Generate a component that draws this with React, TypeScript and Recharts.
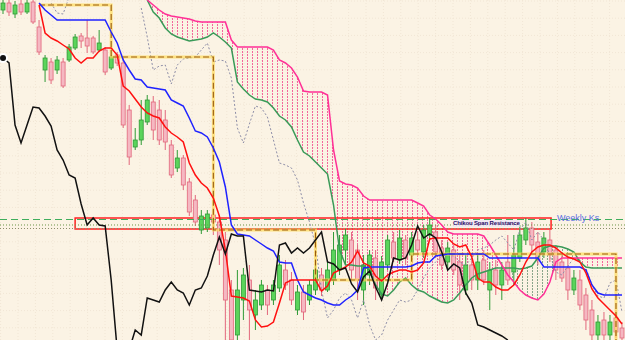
import React from 'react';
import {
  ComposedChart, Bar, Line, Area,
  XAxis, YAxis, CartesianGrid,
  ReferenceLine, ReferenceArea,
} from 'recharts';

const W = 625;
const H = 340;

// price levels are read top-down off the picture (0 = top row, 340 = bottom row)
const opens = [10, 3, 14, 4, 12, 2, 27, 70, 62, 70, 62, 60, 48, 36, 38, 38, 50, 50, 68, 55, 63, 110, 147, 140, 122, 102, 110, 120, 145, 168, 158, 182, 200, 230, 228, 215, 222, 240, 290, 335, 300, 280, 315, 305, 290, 300, 288, 270, 280, 310, 292, 300, 290, 275, 290, 280, 270, 250, 240, 250, 290, 275, 258, 295, 265, 242, 260, 240, 255, 240, 252, 235, 232, 248, 262, 250, 262, 290, 265, 280, 260, 290, 270, 285, 262, 272, 258, 240, 228, 242, 252, 240, 250, 262, 268, 290, 280, 295, 310, 335, 320, 335, 318, 328];
const closes = [3, 12, 5, 12, 3, 22, 52, 58, 80, 60, 86, 47, 37, 41, 46, 52, 43, 72, 57, 63, 125, 157, 140, 120, 100, 130, 140, 142, 175, 158, 185, 212, 222, 216, 214, 222, 250, 300, 340, 290, 275, 310, 300, 285, 305, 285, 265, 285, 300, 292, 312, 285, 270, 290, 270, 250, 245, 235, 270, 280, 265, 255, 288, 262, 240, 258, 238, 258, 238, 250, 230, 225, 252, 265, 248, 270, 285, 265, 280, 262, 280, 270, 285, 270, 280, 255, 235, 228, 245, 260, 238, 255, 270, 278, 290, 278, 305, 320, 335, 322, 335, 322, 332, 338];
const highs = [0, 0, 1, 0, 0, -2, 20, 55, 58, 56, 58, 44, 34, 33, 20, 36, 30, 47, 55, 52, 58, 105, 128, 100, 95, 96, 100, 110, 140, 150, 155, 178, 195, 210, 210, 210, 215, 232, 280, 270, 268, 265, 290, 280, 285, 280, 255, 260, 272, 285, 285, 280, 265, 268, 262, 232, 235, 228, 232, 245, 255, 250, 250, 256, 235, 232, 230, 235, 232, 232, 225, 218, 225, 240, 242, 245, 255, 255, 258, 255, 250, 262, 260, 262, 235, 235, 225, 218, 222, 232, 232, 230, 245, 255, 258, 270, 270, 288, 300, 315, 312, 315, 310, 322];
const lows = [14, 16, 18, 15, 14, 24, 55, 82, 84, 74, 88, 62, 50, 48, 53, 54, 52, 75, 70, 66, 128, 165, 150, 145, 125, 140, 145, 150, 178, 172, 190, 216, 226, 234, 232, 235, 265, 345, 345, 345, 320, 345, 330, 310, 315, 305, 292, 290, 305, 315, 320, 305, 295, 296, 292, 285, 275, 265, 280, 300, 305, 285, 300, 300, 270, 262, 264, 265, 262, 255, 258, 240, 258, 270, 268, 275, 300, 295, 290, 290, 285, 310, 295, 300, 285, 285, 262, 245, 252, 265, 258, 262, 280, 282, 300, 295, 310, 330, 345, 345, 345, 345, 338, 345];

const tenkan = [null, null, null, null, null, null, 5, 33, 38, 41, 45, 49, 58, 63, 58, 58, 51, 48, 48, 55, 86, 91, 99, 107, 113, 116, 118, 127, 133, 137, 142, 163, 175, 183, 188, 198, 216, 250, 296, 297, 298, 301, 320, 327, 326, 322, 303, 283, 280, 280, 280, 280, 280, 291, 286, 273, 270, 267, 262, 251, 263, 266, 276, 281, 275, 272, 270, 270, 272, 270, 263, 239, 238, 238, 238, 244, 247, 245, 257, 278, 282, 282, 287, 290, 290, 285, 275, 262, 252, 247, 245, 245, 248, 253, 257, 259, 262, 273, 289, 298, 304, 310, 316, 324];
const kijun = [null, null, null, null, null, null, 3, 10, 15, 20, 20, 20, 20, 20, 20, 20, 20, 20, 32, 43, 60, 70, 79, 80, 87, 88, 89, 90, 100, 103, 106, 118, 131, 133, 137, 148, 162, 187, 225, 234, 235, 236, 240, 244, 248, 251, 262, 263, 263, 280, 292, 295, 298, 300, 303, 305, 305, 300, 296, 290, 268, 267, 267, 267, 267, 267, 267, 267, 266, 263, 262, 262, 256, 255, 254, 254, 254, 254, 254, 254, 254, 258, 258, 258, 258, 258, 258, 258, 258, 258, 267, 267, 267, 267, 267, 267, 267, 270, 285, 293, 295, 295, 295, 295];
const senkouA = [null, null, null, null, null, null, null, null, null, null, null, null, null, null, null, null, null, null, null, null, null, null, null, null, 0, 12, 18, 28, 34, 37, 39, 41, 40, 39, 37, 33, 37, 42, 48, 82, 89, 95, 99, 100, 102, 108, 116, 120, 127, 140, 152, 156, 162, 168, 174, 205, 250, 265, 265, 266, 266, 270, 285, 294, 296, 290, 282, 278, 285, 290, 292, 296, 299, 302, 303, 300, 293, 285, 278, 274, 272, 270, 268, 268, 268, 268, 269, 268, 266, 258, 248, 246, 246, 247, 249, 252, 262, 267, 268, 268, 268, 268, 268, 268];
const senkouB = [null, null, null, null, null, null, null, null, null, null, null, null, null, null, null, null, null, null, null, null, null, null, null, null, 0, 5, 10, 14, 16, 17, 18, 19, 21, 22, 22, 22, 22, 22, 40, 47, 47, 47, 47, 47, 47, 50, 60, 63, 68, 77, 91, 92, 92, 92, 95, 150, 181, 184, 185, 188, 196, 200, 200, 200, 200, 200, 200, 200, 200, 203, 206, 215, 219, 225, 232, 234, 234, 234, 234, 234, 236, 245, 255, 265, 275, 282, 290, 295, 298, 300, 294, 282, 262, 258, 258, 258, 258, 258, 258, 258, 258, 258, 258, 258];
const chikou = [58, 63, 125, 143, 125, 107, 108, 116, 126, 150, 160, 175, 178, 204, 225, 218, 225, 226, 280, 350, 355, 350, 330, 335, 298, 300, 302, 290, 282, 290, 293, 305, 290, 288, 276, 255, 237, 254, 234, 236, 236, 290, 291, 292, 290, 291, 245, 243, 253, 248, 253, 248, 240, 232, 262, 264, 270, 268, 284, 292, 277, 271, 287, 300, 283, 258, 260, 258, 245, 226, 238, 234, 238, 252, 270, 264, 268, 293, 303, 325, 327, 330, 333, 336, 340, null, null, null, null, null, null, null, null, null, null, null, null, null, null, null, null, null, null, null];
const lagDots = [null, null, null, null, null, null, null, null, 3, 13, 14, -3, null, null, null, null, null, null, null, null, null, null, null, 8, 37, 70, 66, 65, 84, 65, 59, 58, 57, 50, 43, 62, 60, 61, 78, 128, 143, 124, 106, 108, 117, 140, 163, 165, 168, 180, 203, 222, 245, 290, 318, 310, 298, 293, 300, 318, 300, 325, 340, 335, 320, 310, 300, 302, 300, 290, 278, 268, 262, 256, 255, 256, 262, 265, 258, 250, 248, 245, 240, 236, 243, 250, 230, 222, 240, 232, 240, 255, 272, 275, 266, 258, 260, 268, 285, 296, 298, 283, 280, 312];
const weeklyKs = [null, null, null, null, null, null, 5, 5, 5, 5, 5, 5, 5, 5, 5, 5, 5, 5, 57, 57, 57, 57, 57, 57, 57, 57, 57, 57, 57, 57, 57, 57, 57, 57, 57, 230, 230, 230, 230, 230, 230, 230, 230, 230, 230, 230, 230, 230, 230, 230, 230, 230, 280, 280, 280, 280, 280, 280, 280, 280, 280, 280, 280, 280, 280, 280, 280, 280, 254, 254, 254, 254, 254, 254, 254, 254, 254, 254, 254, 254, 254, 254, 254, 254, 254, 254, 254, 254, 254, 254, 254, 254, 254, 254, 254, 254, 254, 254, 254, 254, 254, 254, 345, 345];

const data = opens.map((o, i) => {
  const a = senkouA[i];
  const b = senkouB[i];
  const both = a != null && b != null;
  return {
    i,
    o, c: closes[i], hi: highs[i], lo: lows[i],
    range: [highs[i], lows[i]],
    tenkan: tenkan[i], kijun: kijun[i],
    senkouA: a, senkouB: b,
    chikou: chikou[i], lagDots: lagDots[i], weeklyKs: weeklyKs[i],
    upCloud: both ? [b, Math.max(a, b)] : null,
    downCloud: both ? [a, Math.max(a, b)] : null,
  };
});

const gridX = Array.from({ length: 37 }, (_, k) => 0.6 + 17.4 * k);
const gridY = Array.from({ length: 21 }, (_, k) => 1 + 17.2 * k);

function Candle(props: any) {
  const { x, y, width, height, payload } = props;
  if (payload == null || payload.o == null) return null;
  const top = Math.min(y, y + height);
  const h = Math.abs(height);
  const span = payload.lo - payload.hi;
  const k = span > 0 ? h / span : 0;
  const bull = payload.c < payload.o;
  const stroke = bull ? '#2f9a35' : '#e2677c';
  const fill = bull ? '#5bd45b' : '#f5b8c2';
  const cx = x + width / 2;
  const bodyTop = top + (Math.min(payload.o, payload.c) - payload.hi) * k;
  const bodyH = Math.max(1, Math.abs(payload.c - payload.o) * k);
  return (
    <g>
      <line x1={cx} x2={cx} y1={top} y2={top + h} stroke={stroke} strokeWidth={1} />
      <rect x={x} y={bodyTop} width={width} height={bodyH} fill={fill} stroke={stroke} strokeWidth={0.8} />
    </g>
  );
}

export default function App() {
  return (
    <div style={{ position: 'absolute', left: 0, top: 0, width: W, height: H, background: '#fbf3e4', overflow: 'hidden' }}>
      <ComposedChart width={W} height={H} data={data} margin={{ top: 0, right: 0, bottom: 0, left: 0 }}>
        <defs>
          <pattern id="kumoUp" width="5" height="3" patternUnits="userSpaceOnUse">
            <rect x="2" y="0" width="1" height="2" fill="#f3679b" />
          </pattern>
          <pattern id="kumoDown" width="5" height="3" patternUnits="userSpaceOnUse">
            <rect x="2" y="0" width="1" height="2" fill="#8aa48a" />
          </pattern>
        </defs>
        <CartesianGrid stroke="#f1e6d5" strokeDasharray="1 2" horizontalPoints={gridY} verticalPoints={gridX} />
        <XAxis hide type="number" dataKey="i" domain={[-0.5, 103.5]} allowDataOverflow />
        <YAxis hide type="number" reversed domain={[0, 340]} allowDataOverflow />

        <Area type="linear" dataKey="upCloud" stroke="none" fill="url(#kumoUp)" fillOpacity={1} isAnimationActive={false} />
        <Area type="linear" dataKey="downCloud" stroke="none" fill="url(#kumoDown)" fillOpacity={1} isAnimationActive={false} />

        <ReferenceLine y={219.5} stroke="#3fae5c" strokeDasharray="7 4" strokeWidth={1} />
        <ReferenceLine y={225} stroke="#6f9a4c" strokeDasharray="1 2" strokeWidth={1} />
        <ReferenceLine y={228.5} stroke="#8c8c6a" strokeDasharray="1 2" strokeWidth={1} />

        <Bar dataKey="range" barSize={4} shape={<Candle />} isAnimationActive={false} />

        <Line type="linear" dataKey="lagDots" stroke="#8f8fa8" strokeWidth={1} strokeDasharray="2 2" dot={false} isAnimationActive={false} />
        <Line type="linear" dataKey="senkouA" stroke="#3a9a58" strokeWidth={1.5} dot={false} isAnimationActive={false} />
        <Line type="linear" dataKey="senkouB" stroke="#ff2f96" strokeWidth={1.5} dot={false} isAnimationActive={false} />
        <Line type="stepAfter" dataKey="weeklyKs" stroke="#ffdc5a" strokeWidth={3} strokeOpacity={0.7} dot={false} isAnimationActive={false} />
        <Line type="stepAfter" dataKey="weeklyKs" stroke="#9a5a10" strokeWidth={1.1} strokeDasharray="6 3" dot={false} isAnimationActive={false} />
        <Line type="linear" dataKey="kijun" stroke="#1f22ff" strokeWidth={1.5} dot={false} isAnimationActive={false} />
        <Line type="linear" dataKey="tenkan" stroke="#ff1010" strokeWidth={1.5} dot={false} isAnimationActive={false} />
        <Line type="linear" dataKey="chikou" stroke="#111111" strokeWidth={1.5} dot={false} isAnimationActive={false} />

        <ReferenceArea x1={12} x2={91.2} y1={218} y2={229} fill="none" stroke="#ff2020" strokeWidth={1.5} />
      </ComposedChart>
      <div style={{ position: 'absolute', left: 453, top: 219.5, fontFamily: '"Liberation Sans", Arial, sans-serif', fontSize: 6, fontWeight: 'bold', letterSpacing: -0.15, color: '#2b0b66', background: 'rgba(236,228,250,0.7)', lineHeight: '7px', whiteSpace: 'nowrap' }}>
        Chikou Span Resistance
      </div>
      <div style={{ position: 'absolute', left: 557, top: 213, fontFamily: '"Liberation Sans", Arial, sans-serif', fontSize: 9, color: '#5a6ee0', lineHeight: '10px', whiteSpace: 'nowrap' }}>
        Weekly Ks
      </div>
    </div>
  );
}
